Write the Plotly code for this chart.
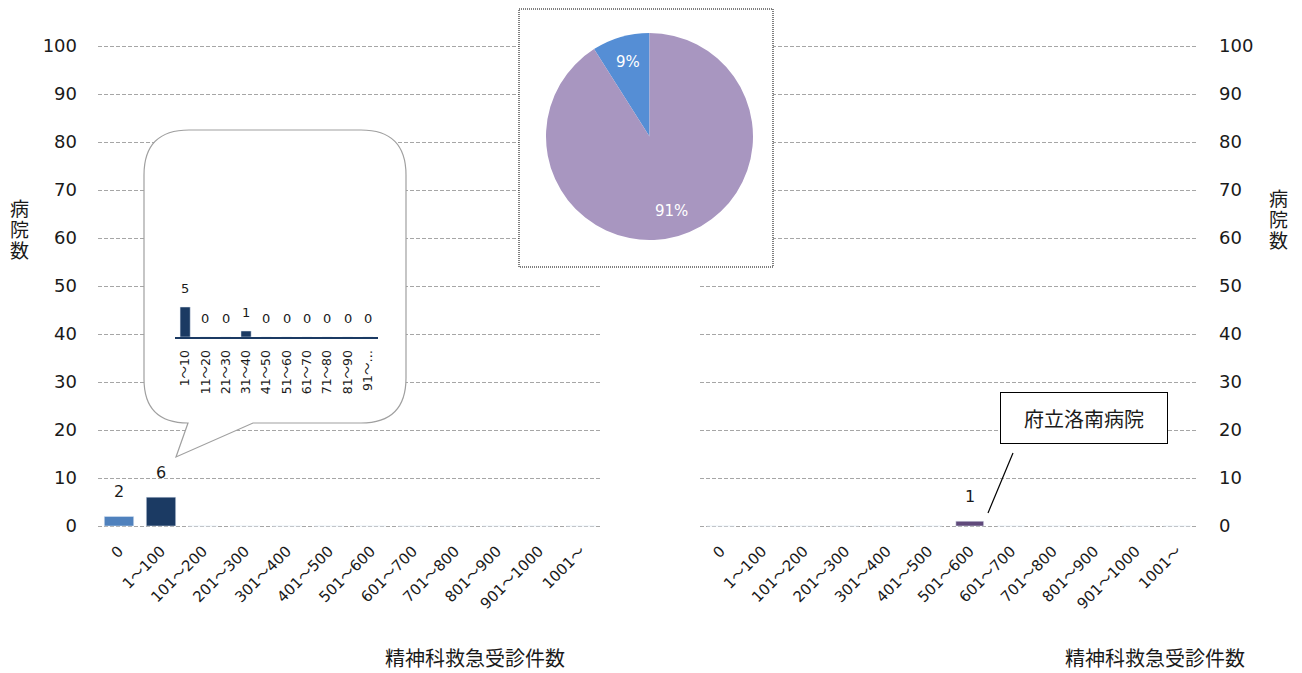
import math

import plotly.graph_objects as go

# the page body adds an 8px margin, so the figure is offset by that much
OFF = 8
FW, FH = 1286, 665

# ---- data ----
categories = [
    "0", "1～100", "101～200", "201～300", "301～400", "401～500",
    "501～600", "601～700", "701～800", "801～900", "901～1000", "1001～",
]
left_values = [2, 6, 0, 0, 0, 0, 0, 0, 0, 0, 0, 0]
right_values = [0, 0, 0, 0, 0, 0, 1, 0, 0, 0, 0, 0]

inset_categories = [
    "1～10", "11～20", "21～30", "31～40", "41～50",
    "51～60", "61～70", "71～80", "81～90", "91～…",
]
inset_values = [5, 0, 0, 1, 0, 0, 0, 0, 0, 0]

pie_labels = ["該当", "その他"]
pie_values = [9, 91]

axis_title = "精神科救急受診件数"
y_title = "病院数"
callout_name = "府立洛南病院"

FONT = "DejaVu Sans, Verdana, Noto Sans CJK JP"
JP_FONT = "Noto Sans CJK JP, DejaVu Sans"
TXT = "#1a1a1a"
GRID = "#a6a6a6"
NAVY = "#1b3a63"
PIE_COLORS = ["#558ed5", "#a896c0"]

# pie placement (screen pixels)
PIE_CX, PIE_CY, PIE_R = 649.5, 136.5, 103.5


def fx(p):
    """screen x pixel -> paper fraction"""
    return (p - OFF) / FW


def fy(p):
    """screen y pixel -> paper fraction"""
    return 1 - (p - OFF) / FH


fig = go.Figure()

# left histogram
fig.add_trace(go.Bar(
    x=categories, y=left_values, xaxis="x", yaxis="y", width=0.7,
    marker_color=["#4f81bd"] + [NAVY] * (len(categories) - 1),
    hoverinfo="x+y",
))
# right histogram
fig.add_trace(go.Bar(
    x=categories, y=right_values, xaxis="x2", yaxis="y2", width=0.67,
    marker_color="#604a7b", hoverinfo="x+y",
))
# empty helpers so the decoration subplots exist (box behind pie, callout bubble)
fig.add_trace(go.Scatter(x=[], y=[], xaxis="x3", yaxis="y3", hoverinfo="skip"))
fig.add_trace(go.Scatter(x=[], y=[], xaxis="x4", yaxis="y4", hoverinfo="skip"))
# inset histogram inside the bubble
fig.add_trace(go.Bar(
    x=inset_categories, y=inset_values, xaxis="x5", yaxis="y5", width=0.5,
    marker_color=NAVY, hoverinfo="x+y",
))
# pie: first slice sits just left of 12 o'clock
total = sum(pie_values)
start_deg = -360 * pie_values[0] / total
fig.add_trace(go.Pie(
    labels=pie_labels, values=pie_values, sort=False, direction="clockwise",
    rotation=start_deg, marker=dict(colors=PIE_COLORS),
    textinfo="none",
    domain=dict(x=[fx(PIE_CX - PIE_R), fx(PIE_CX + PIE_R)],
                y=[fy(PIE_CY + PIE_R), fy(PIE_CY - PIE_R)]),
    showlegend=False,
))

PAD = 0.5           # keeps the 0 and 100 gridlines off the plot edges
PX_PER_UNIT = 4.8   # 480px for 0..100
y_common = dict(
    range=[-PAD, 100 + PAD], dtick=10, showgrid=True, gridcolor=GRID,
    griddash="4px,2px", gridwidth=1, zeroline=False, showline=False, ticks="",
    tickfont=dict(size=18, family=FONT, color=TXT), ticklabelstandoff=20,
    domain=[fy(526 + PAD * PX_PER_UNIT), fy(46 - PAD * PX_PER_UNIT)],
    automargin=False,
)
x_common = dict(
    type="category", categoryorder="array", categoryarray=categories,
    showgrid=False, zeroline=False, showline=False, ticks="", tickangle=-45,
    tickfont=dict(size=15, family=FONT, color=TXT), ticklabelstandoff=10,
    automargin=False,
)
hidden = dict(visible=False, showgrid=False, zeroline=False, fixedrange=True,
              automargin=False)

fig.update_layout(
    width=FW, height=FH, autosize=False,
    margin=dict(l=0, r=0, t=0, b=0, autoexpand=False),
    paper_bgcolor="white", plot_bgcolor="rgba(0,0,0,0)",
    showlegend=False,
    xaxis=dict(x_common, domain=[fx(98), fx(602)], anchor="y"),
    yaxis=dict(y_common, anchor="x", side="left"),
    xaxis2=dict(x_common, domain=[fx(700), fx(1198)], anchor="y2"),
    yaxis2=dict(y_common, anchor="x2", side="right"),
    # box behind the pie, axes in screen pixels
    xaxis3=dict(hidden, domain=[fx(517), fx(775)], range=[517, 775], anchor="y3"),
    yaxis3=dict(hidden, domain=[fy(269), fy(8)], range=[269, 8], anchor="x3"),
    # callout bubble, axes in screen pixels
    xaxis4=dict(hidden, domain=[fx(140), fx(410)], range=[140, 410], anchor="y4"),
    yaxis4=dict(hidden, domain=[fy(462), fy(126)], range=[462, 126], anchor="x4"),
    # inset chart
    xaxis5=dict(
        type="category", categoryorder="array", categoryarray=inset_categories,
        domain=[fx(175), fx(378)], anchor="y5", showgrid=False, zeroline=False,
        showline=True, linecolor=NAVY, linewidth=2, ticks="", tickangle=-90,
        tickfont=dict(size=12.5, family=FONT, color=TXT), ticklabelstandoff=6,
        automargin=False,
    ),
    yaxis5=dict(hidden, domain=[fy(337), fy(277)], range=[0, 10], anchor="x5"),
)

shapes = [
    dict(type="rect", xref="x3", yref="y3", x0=519, x1=773, y0=9, y1=267,
         fillcolor="white", line=dict(color="black", width=1, dash="1px,1px"),
         layer="below"),
    dict(type="path", xref="x4", yref="y4", layer="below",
         path="M 189,130 L 361,130 Q 406,130 406,175 L 406,378 Q 406,423 361,423 "
              "L 253,423 L 176,457 L 188,423 Q 144,423 144,379 L 144,175 Q 144,130 189,130 Z",
         fillcolor="white", line=dict(color="#a0a0a0", width=1.2)),
    dict(type="line", xref="paper", yref="paper", x0=fx(1013), y0=fy(453),
         x1=fx(988), y1=fy(513), line=dict(color="black", width=1.2), layer="above"),
]


def label(**kw):
    kw.setdefault("showarrow", False)
    kw.setdefault("xanchor", "center")
    kw.setdefault("yanchor", "middle")
    return kw


annotations = []
for cat, val in zip(categories, left_values):
    if val:
        annotations.append(label(x=cat, y=val, xref="x", yref="y", text=str(val), yshift=25,
                                 font=dict(size=16, family=FONT, color=TXT)))
for cat, val in zip(categories, right_values):
    if val:
        annotations.append(label(x=cat, y=val, xref="x2", yref="y2", text=str(val), yshift=25,
                                 font=dict(size=16, family=FONT, color=TXT)))
for cat, val in zip(inset_categories, inset_values):
    annotations.append(label(x=cat, y=val, xref="x5", yref="y5", text=str(val), yshift=19,
                             font=dict(size=13, family=FONT, color=TXT)))

# pie percentages, placed at 3/4 radius along each slice's middle
angle = start_deg
for val in pie_values:
    sweep = 360 * val / total
    mid = math.radians(angle + sweep / 2)
    angle += sweep
    px_ = PIE_CX + 0.75 * PIE_R * math.sin(mid)
    py_ = PIE_CY - 0.75 * PIE_R * math.cos(mid)
    annotations.append(label(x=fx(px_), y=fy(py_), xref="paper", yref="paper",
                             text=f"{round(100 * val / total)}%",
                             font=dict(size=15, family=FONT, color="white")))

# axis titles
for cx in (475, 1155):
    annotations.append(label(x=fx(cx), y=fy(657), xref="paper", yref="paper", text=axis_title,
                             font=dict(size=20, family=JP_FONT, color=TXT)))
stacked = "<br>".join(f'<span style="font-size:19px">{ch}</span>' for ch in y_title)
for cx, cy in ((19, 228), (1278, 219)):
    annotations.append(label(x=fx(cx), y=fy(cy), xref="paper", yref="paper", text=stacked,
                             font=dict(size=16, family=JP_FONT, color=TXT)))

# hospital callout
annotations.append(label(x=fx(1084), y=fy(418), xref="paper", yref="paper",
                         text=callout_name, width=166, height=50,
                         bgcolor="white", bordercolor="black", borderwidth=1, borderpad=0,
                         font=dict(size=20, family=JP_FONT, color=TXT)))

fig.update_layout(shapes=shapes, annotations=annotations)

fig.write_html("out.html")
